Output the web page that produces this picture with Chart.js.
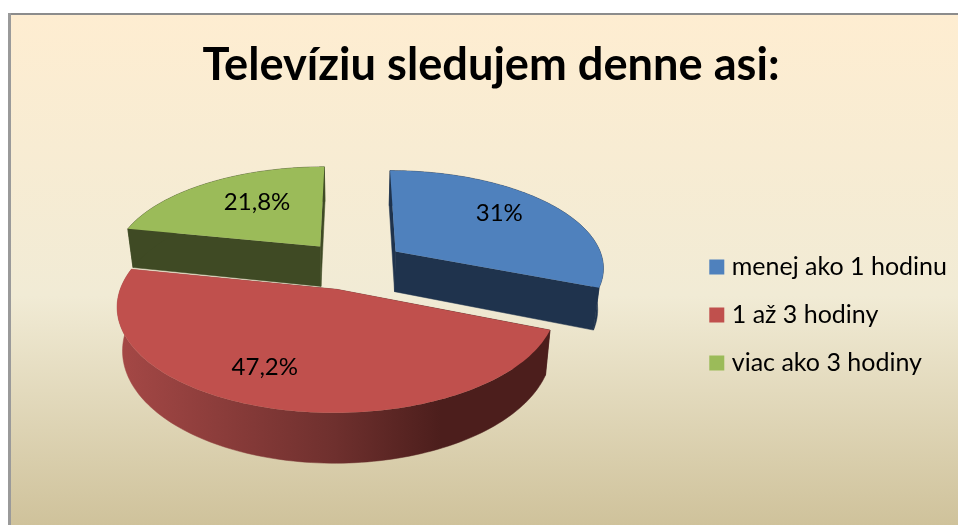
<!DOCTYPE html>
<html lang="sk">
<head>
<meta charset="utf-8">
<style>html,body{margin:0;padding:0;background:#fff;overflow:hidden}canvas{display:block}</style>
<script src="https://cdn.jsdelivr.net/npm/chart.js@4"></script>
</head>
<body>
<canvas id="c" width="958" height="525"></canvas>
<script>
const titleText = 'Televíziu sledujem denne asi:';
const categories = ['menej ako 1 hodinu', '1 až 3 hodiny', 'viac ako 3 hodiny'];
const values = [31, 47.2, 21.8];
const topColors = ['#4F81BD', '#C0504D', '#9BBB59'];
const wallColors = ['#1F334D', null, '#3F4A24'];
const labelNudge = [[9, -8], [-30, 12], [7, -5]];
const uiFont = 'Lato, Carlito, Calibri, sans-serif';

// Perspective view of the pie plane
const view = {cx: 352.7, cy: 265, rx: 209, ry: 96.8, persp: 0.15, explode: 0.253, depth: 41, shrink: 0.977};

function project(u, v, low) {
  const s = 1 / (1 - view.persp * v);
  return {
    x: view.cx + u * view.rx * s * (low ? view.shrink : 1),
    y: view.cy + v * view.ry * s + (low ? view.depth * s : 0)
  };
}
function pathOf(ctx, pts) {
  ctx.beginPath();
  pts.forEach((p, i) => i ? ctx.lineTo(p.x, p.y) : ctx.moveTo(p.x, p.y));
  ctx.closePath();
}
function arcPoints(st, en, ou, ov, low) {
  const out = [], n = 120;
  for (let i = 0; i <= n; i++) {
    const a = st + (en - st) * i / n;
    out.push(project(ou + Math.cos(a), ov + Math.sin(a), low));
  }
  return out;
}

const pie3d = {
  id: 'pie3d',
  beforeDraw(chart) {
    const {ctx, width, height} = chart;
    ctx.save();
    ctx.fillStyle = '#fff';
    ctx.fillRect(0, 0, width, height);
    const g = ctx.createLinearGradient(0, 15, 0, height);
    g.addColorStop(0, '#FEEDD1');
    g.addColorStop(0.55, '#F1EBD5');
    g.addColorStop(1, '#CFC29B');
    ctx.fillStyle = g;
    ctx.fillRect(11, 15, width - 11, height - 15);
    ctx.fillStyle = '#8C8C8C';
    ctx.fillRect(8, 13, width - 8, 2);
    ctx.fillStyle = '#9A9A9A';
    ctx.fillRect(8, 13, 3, height - 13);
    ctx.restore();
  },
  beforeDatasetDraw(chart, args) {
    const {ctx} = chart;
    const arcs = chart.getDatasetMeta(args.index).data;
    ctx.save();
    ctx.lineJoin = 'round';
    [0, 2, 1].forEach(i => {
      const el = arcs[i];
      const st = el.startAngle, en = el.endAngle, mid = (st + en) / 2;
      const ou = view.explode * Math.cos(mid), ov = view.explode * Math.sin(mid);
      let wall = wallColors[i];
      if (!wall) {
        wall = ctx.createLinearGradient(118, 0, 549, 0);
        wall.addColorStop(0, '#A54846');
        wall.addColorStop(0.5, '#6F302E');
        wall.addColorStop(0.75, '#4C1E1C');
        wall.addColorStop(1, '#4C1E1C');
      }
      const up = arcPoints(st, en, ou, ov, false);
      const lo = arcPoints(st, en, ou, ov, true);
      const aU = project(ou, ov, false), aL = project(ou, ov, true);
      ctx.fillStyle = wall;
      ctx.strokeStyle = wall;
      ctx.lineWidth = 0.5;
      // radial faces
      [[up[0], lo[0]], [up[up.length - 1], lo[lo.length - 1]]].forEach(([a, b]) => {
        pathOf(ctx, [aU, a, b, aL]);
        ctx.fill(); ctx.stroke();
      });
      // rim
      pathOf(ctx, up.concat(lo.slice().reverse()));
      ctx.fill(); ctx.stroke();
      // top surface
      ctx.fillStyle = topColors[i];
      pathOf(ctx, [aU].concat(up));
      ctx.fill();
    });
    ctx.restore();
    return false;
  },
  afterDatasetsDraw(chart) {
    const {ctx} = chart;
    const arcs = chart.getDatasetMeta(0).data;
    ctx.save();
    ctx.fillStyle = '#000';
    ctx.font = '24px ' + uiFont;
    ctx.textAlign = 'center';
    ctx.textBaseline = 'middle';
    arcs.forEach((el, i) => {
      const mid = (el.startAngle + el.endAngle) / 2;
      const t = view.explode + 0.6;
      const p = project(t * Math.cos(mid), t * Math.sin(mid), false);
      const txt = String(values[i]).replace('.', ',') + '%';
      ctx.fillText(txt, p.x + labelNudge[i][0], p.y + labelNudge[i][1]);
    });
    ctx.restore();
  }
};

new Chart(document.getElementById('c'), {
  type: 'pie',
  data: {
    labels: categories,
    datasets: [{data: values, backgroundColor: topColors, borderWidth: 0}]
  },
  plugins: [pie3d],
  options: {
    responsive: false,
    animation: false,
    devicePixelRatio: 1,
    layout: {padding: {left: 25, right: 1, top: 38, bottom: -67}},
    plugins: {
      tooltip: {enabled: false},
      title: {
        display: true,
        text: titleText,
        color: '#000',
        font: {family: uiFont, size: 45.2, weight: 'bold'},
        padding: {top: 0, bottom: 10}
      },
      legend: {
        position: 'right',
        labels: {
          boxWidth: 5,
          boxHeight: 5,
          padding: 23,
          color: '#000',
          font: {family: uiFont, size: 25},
          generateLabels: chart => categories.map((t, i) => ({
            text: t,
            fillStyle: topColors[i],
            strokeStyle: topColors[i],
            lineWidth: 10,
            fontColor: '#000',
            hidden: false,
            index: i
          }))
        }
      }
    }
  }
});
</script>
</body>
</html>
